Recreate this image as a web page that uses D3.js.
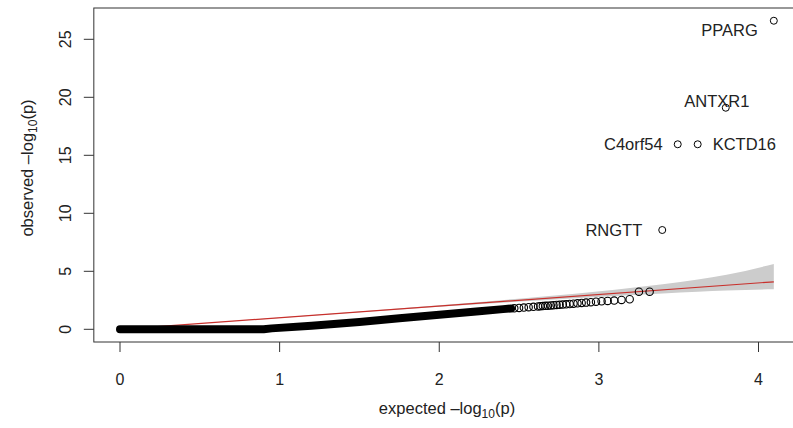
<!DOCTYPE html>
<html>
<head>
<meta charset="utf-8">
<script src="https://cdn.jsdelivr.net/npm/d3@7"></script>
<style>
  html, body { margin: 0; padding: 0; background: #fff; }
  svg { display: block; font-family: "Liberation Sans", Arial, sans-serif; }
</style>
</head>
<body>
<div id="chart"></div>
<script>
// axis ticks
const ticksX = [0, 1, 2, 3, 4];
const ticksY = [0, 5, 10, 15, 20, 25];

// labelled top hits
const geneNames = ['PPARG', 'ANTXR1', 'KCTD16', 'C4orf54', 'RNGTT'];
const geneExpected = [4.096, 3.795, 3.619, 3.494, 3.397];
const geneObserved = [26.6, 19.1, 15.95, 15.95, 8.56];

// single visible circles in the tail
const tailExpected = [3.318, 3.251, 3.193, 3.142, 3.096, 3.055, 3.017, 2.982, 2.950, 2.920, 2.892, 2.866,
  2.841, 2.817, 2.795, 2.774, 2.754, 2.735, 2.716, 2.699, 2.681, 2.665, 2.649, 2.634, 2.619,
  2.590, 2.560, 2.530, 2.500, 2.470];
const tailObserved = [3.24, 3.24, 2.59, 2.53, 2.48, 2.45, 2.42, 2.38, 2.34, 2.30, 2.27, 2.24,
  2.21, 2.18, 2.15, 2.13, 2.11, 2.10, 2.08, 2.06, 2.04, 2.02, 2.00, 1.99, 1.97,
  1.94, 1.91, 1.87, 1.84, 1.81];

// the dense run of overlapping circles (read along its centre)
const denseExpected = [0, 0.9, 0.95, 1.2, 1.5, 1.75, 2.0, 2.25, 2.4, 2.45];
const denseObserved = [0, 0, 0.08, 0.3, 0.62, 0.95, 1.25, 1.55, 1.74, 1.79];

// 95% band around the null line
const ciExpected = [0, 1, 2, 2.6, 3.1, 3.4, 3.62, 3.8, 4.096];
const ciUpper = [0, 1.02, 2.07, 2.77, 3.42, 3.89, 4.30, 4.71, 5.63];
const ciLower = [0, 0.98, 1.94, 2.47, 2.86, 3.09, 3.24, 3.35, 3.45];

// null line y = x
const nullLine = [0, 4.096];

const width = 793, height = 428;

function createChart() {
  const svg = d3.select('#chart').append('svg')
    .attr('width', width)
    .attr('height', height);

  const x = d3.scaleLinear().domain([0, 4]).range([120, 758.5]);
  const y = d3.scaleLinear().domain([0, 25]).range([329.3, 39.3]);

  const boxLeft = x(-0.164), boxRight = x(4.26);
  const boxTop = 8, boxBottom = 342;

  // confidence band
  const band = ciExpected.map((e, i) => ({e: e, lo: ciLower[i], hi: ciUpper[i]}));
  svg.append('path')
    .datum(band)
    .attr('fill', '#cccccc')
    .attr('d', d3.area().x(d => x(d.e)).y0(d => y(d.lo)).y1(d => y(d.hi)).curve(d3.curveMonotoneX));

  // null line
  svg.append('line')
    .attr('x1', x(nullLine[0])).attr('y1', y(nullLine[0]))
    .attr('x2', x(nullLine[1])).attr('y2', y(nullLine[1]))
    .attr('stroke', '#c8302c')
    .attr('stroke-width', 1.2);

  // dense run of points
  const dense = denseExpected.map((e, i) => [e, denseObserved[i]]);
  svg.append('path')
    .datum(dense)
    .attr('fill', 'none')
    .attr('stroke', '#000')
    .attr('stroke-width', 8)
    .attr('stroke-linecap', 'round')
    .attr('stroke-linejoin', 'round')
    .attr('d', d3.line().x(d => x(d[0])).y(d => y(d[1])));

  // tail circles
  svg.append('g').selectAll('circle')
    .data(tailExpected.map((e, i) => [e, tailObserved[i]]))
    .enter().append('circle')
    .attr('cx', d => x(d[0]))
    .attr('cy', d => y(d[1]))
    .attr('r', 3.7)
    .attr('fill', 'none')
    .attr('stroke', '#000')
    .attr('stroke-width', 1.1);

  // labelled genes
  const genes = geneNames.map((n, i) => ({name: n, e: geneExpected[i], o: geneObserved[i]}));
  svg.append('g').selectAll('circle')
    .data(genes)
    .enter().append('circle')
    .attr('cx', d => x(d.e))
    .attr('cy', d => y(d.o))
    .attr('r', 3.5)
    .attr('fill', 'none')
    .attr('stroke', '#000')
    .attr('stroke-width', 1);

  const labelPos = {
    PPARG: {dx: -16, dy: 15, anchor: 'end'},
    ANTXR1: {dx: -9, dy: -1, anchor: 'middle'},
    KCTD16: {dx: 15, dy: 6, anchor: 'start'},
    C4orf54: {dx: -15, dy: 6, anchor: 'end'},
    RNGTT: {dx: -20, dy: 6, anchor: 'end'}
  };
  svg.append('g').selectAll('text')
    .data(genes)
    .enter().append('text')
    .attr('x', d => x(d.e) + labelPos[d.name].dx)
    .attr('y', d => y(d.o) + labelPos[d.name].dy)
    .attr('text-anchor', d => labelPos[d.name].anchor)
    .attr('font-size', 16.5)
    .attr('fill', '#222')
    .text(d => d.name);

  // box
  svg.append('rect')
    .attr('x', boxLeft).attr('y', boxTop)
    .attr('width', boxRight - boxLeft).attr('height', boxBottom - boxTop)
    .attr('fill', 'none')
    .attr('stroke', '#333')
    .attr('stroke-width', 1);

  // x axis
  const gx = svg.append('g').attr('transform', 'translate(0,' + boxBottom + ')');
  gx.selectAll('line').data(ticksX).enter().append('line')
    .attr('x1', d => x(d)).attr('x2', d => x(d))
    .attr('y1', 0).attr('y2', 10)
    .attr('stroke', '#333');
  gx.selectAll('text').data(ticksX).enter().append('text')
    .attr('x', d => x(d)).attr('y', 43)
    .attr('text-anchor', 'middle')
    .attr('font-size', 16)
    .attr('fill', '#222')
    .text(d => d);

  // y axis
  const gy = svg.append('g').attr('transform', 'translate(' + boxLeft + ',0)');
  gy.selectAll('line').data(ticksY).enter().append('line')
    .attr('x1', 0).attr('x2', -10)
    .attr('y1', d => y(d)).attr('y2', d => y(d))
    .attr('stroke', '#333');
  gy.selectAll('text').data(ticksY).enter().append('text')
    .attr('transform', d => 'translate(-23,' + y(d) + ') rotate(-90)')
    .attr('text-anchor', 'middle')
    .attr('font-size', 16)
    .attr('fill', '#222')
    .text(d => d);

  // axis titles
  const xt = svg.append('text')
    .attr('x', 447).attr('y', 414)
    .attr('text-anchor', 'middle')
    .attr('font-size', 16.5)
    .attr('fill', '#222');
  xt.append('tspan').text('expected \u2013log');
  xt.append('tspan').attr('font-size', 12).attr('dy', 4).text('10');
  xt.append('tspan').attr('dy', -4).text('(p)');

  const yt = svg.append('text')
    .attr('transform', 'translate(33,168) rotate(-90)')
    .attr('text-anchor', 'middle')
    .attr('font-size', 16.5)
    .attr('fill', '#222');
  yt.append('tspan').text('observed \u2013log');
  yt.append('tspan').attr('font-size', 12).attr('dy', 4).text('10');
  yt.append('tspan').attr('dy', -4).text('(p)');
}

createChart();
</script>
</body>
</html>
